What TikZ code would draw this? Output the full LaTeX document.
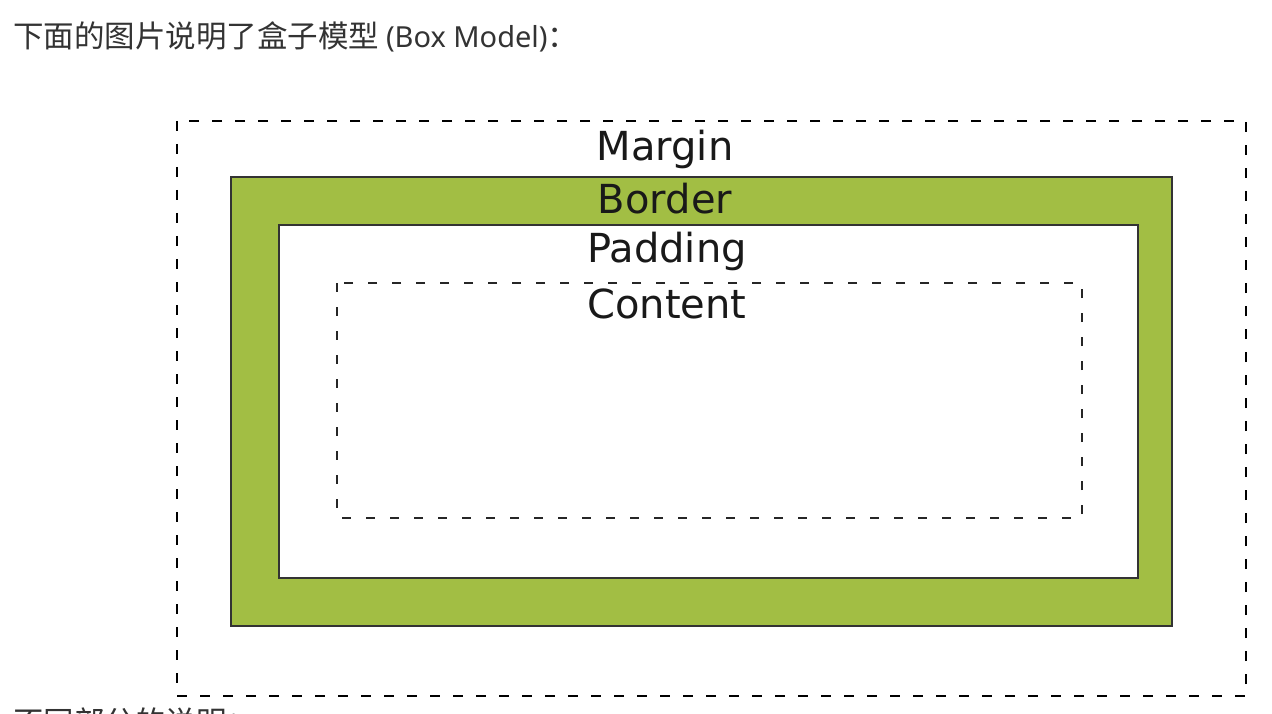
\documentclass[tikz,border=0pt]{standalone}
\usepackage{fontspec}
\newfontfamily\labelfont{DejaVu Sans}
\newfontfamily\cjk{Noto Sans CJK SC}
\newfontfamily\latinfont{Noto Sans}
\definecolor{bordergreen}{RGB}{162,190,68}
\definecolor{textgray}{RGB}{51,51,51}

\begin{document}
\begin{tikzpicture}[
x=1pt, y=-1pt,
marginbox/.style={draw=black, dash pattern=on 10pt off 13pt, line width=2.2pt},
contentbox/.style={draw=black!85, dash pattern=on 9pt off 15pt, line width=1.6pt},
solidbox/.style={draw=black!80, line width=2pt},
boxlabel/.style={anchor=base, inner sep=0pt, text=black!90,
	font=\labelfont\fontsize{40}{40}\selectfont},
pagetext/.style={anchor=base west, inner sep=0pt, text=textgray,
	font=\cjk\fontsize{30.5}{30.5}\selectfont}
]
\useasboundingbox (0,0) rectangle (1272,714);
\clip (0,0) rectangle (1272,714);
\fill[white] (0,0) rectangle (1272,714);

\draw[marginbox] (177,121) rectangle (1246,696);
\draw[solidbox, fill=bordergreen] (231,177) rectangle (1172,626);
\draw[solidbox, fill=white] (279,225) rectangle (1138,578);
\draw[contentbox] (337,283) rectangle (1082,518);

\node[boxlabel] (margin) at (665,161) {Margin};
\node[boxlabel] (border) at (665,214) {Border};
\node[boxlabel] (padding) at (667,262) {Padding};
\node[boxlabel] (content) at (667,318) {Content};

\node[pagetext] (title) at (13,48) {下面的图片说明了盒子模型 {\latinfont\fontsize{29}{29}\selectfont (Box Model)}：};
\node[pagetext] (parts) at (13,733) {不同部分的说明：};
\end{tikzpicture}
\end{document}
